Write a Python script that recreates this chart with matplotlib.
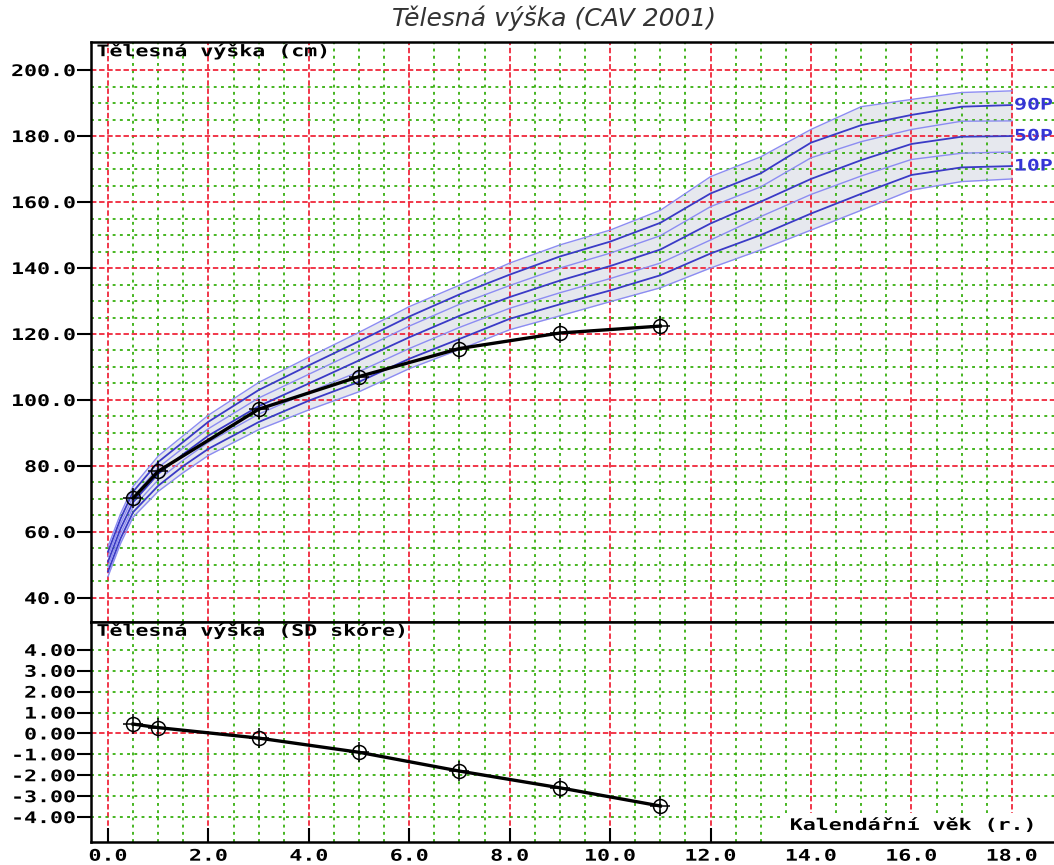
import numpy as np
import matplotlib
matplotlib.use('Agg')
import matplotlib.pyplot as plt
from matplotlib.patheffects import AbstractPathEffect
from matplotlib.transforms import Affine2D

# percentile reference curves (boys, CAV 2001)
ages = [0, 0.25, 0.5, 1, 1.5, 2, 3, 4, 5, 6, 7, 8, 9, 10, 11, 12, 13, 14, 15, 16, 17, 18]
p3 = [46.5, 56.5, 64.5, 72.3, 78.0, 83.2, 91.0, 97.0, 102.5, 109.5, 115.3, 121.3, 125.5, 129.8, 134.0, 140.0, 145.5, 151.5, 157.5, 163.6, 166.2, 167.0]
p10 = [48.0, 58.0, 66.0, 74.0, 80.0, 85.2, 93.3, 99.8, 105.5, 112.5, 118.5, 124.6, 129.0, 133.2, 137.8, 144.4, 150.0, 156.5, 162.5, 168.2, 170.5, 170.9]
p25 = [49.5, 59.5, 67.5, 75.8, 81.8, 87.2, 95.7, 102.4, 108.6, 115.6, 122.0, 127.8, 132.5, 136.8, 141.5, 148.5, 155.6, 162.3, 167.9, 172.9, 174.8, 175.2]
p50 = [51.0, 61.0, 69.0, 77.6, 83.6, 89.2, 98.1, 105.0, 112.0, 119.0, 125.5, 131.2, 136.2, 140.6, 145.6, 153.5, 160.1, 167.0, 172.7, 177.6, 179.8, 180.0]
p75 = [52.5, 62.5, 70.6, 79.5, 85.5, 91.3, 100.6, 107.8, 115.0, 122.4, 129.0, 134.7, 140.0, 144.5, 149.8, 158.6, 164.6, 173.4, 178.3, 182.0, 184.5, 184.6]
p90 = [54.0, 64.0, 72.2, 81.2, 87.3, 93.4, 103.0, 110.5, 117.8, 125.3, 132.0, 138.0, 143.5, 148.0, 153.7, 162.6, 168.7, 178.0, 183.3, 186.4, 188.9, 189.4]
p97 = [55.5, 65.5, 73.8, 83.0, 89.2, 95.4, 105.3, 113.0, 120.5, 128.3, 134.8, 141.5, 147.0, 151.5, 157.5, 167.7, 173.7, 182.0, 188.9, 191.1, 193.2, 193.7]

# patient measurements
visit_age = [0.5, 1.0, 3.0, 5.0, 7.0, 9.0, 11.0]
height_cm = [70.2, 78.4, 97.2, 107.1, 115.6, 120.3, 122.4]
height_sd = [0.45, 0.28, -0.22, -0.9, -1.8, -2.6, -3.47]

x_ticks = [0, 2, 4, 6, 8, 10, 12, 14, 16, 18]
x_labels = ['0.0', '2.0', '4.0', '6.0', '8.0', '10.0', '12.0', '14.0', '16.0', '18.0']
cm_ticks = [40, 60, 80, 100, 120, 140, 160, 180, 200]
cm_labels = ['40.0', '60.0', '80.0', '100.0', '120.0', '140.0', '160.0', '180.0', '200.0']
sd_ticks = [-4, -3, -2, -1, 0, 1, 2, 3, 4]
sd_labels = ['-4.00', '-3.00', '-2.00', '-1.00', '0.00', '1.00', '2.00', '3.00', '4.00']

RED = '#f0283c'
GREEN = '#38b010'
LIGHT = '#8c8cf2'
DARK = '#3a3ac6'
MONO = dict(family='DejaVu Sans Mono', weight='bold', fontsize=11.5)
SX = 1.35  # the original uses a wide pixel font


class Stretch(AbstractPathEffect):
    """Widen text glyphs horizontally around the alignment anchor."""

    def __init__(self, sx, anchor='left'):
        super().__init__()
        self.sx = sx
        self.anchor = anchor

    def draw_path(self, renderer, gc, tpath, affine, rgbFace=None):
        ext = tpath.get_extents()
        x0 = {'left': ext.x0, 'right': ext.x1, 'center': (ext.x0 + ext.x1) / 2}[self.anchor]
        t = Affine2D().translate(-x0, 0).scale(self.sx, 1).translate(x0, 0)
        renderer.draw_path(gc, tpath, t + affine, rgbFace)


fig = plt.figure(figsize=(10.54, 8.65), dpi=100)
ax = fig.add_axes([0.0863, 0.2813, 0.9137, 0.6701])
ax2 = fig.add_axes([0.0863, 0.0269, 0.9137, 0.2544])

XLIM = (-0.339, 18.84)


def draw_grid(a, ys_green, ys_red):
    for xv in np.arange(0, 18.01, 0.5):
        if xv % 2 == 0:
            a.axvline(xv, color=RED, lw=1.3, ls=(0, (3, 1.5)), zorder=1)
        else:
            a.axvline(xv, color=GREEN, lw=1.3, ls=(0, (1.6, 2.4)), zorder=1)
    for yv in ys_green:
        a.axhline(yv, color=GREEN, lw=1.3, ls=(0, (1.6, 2.4)), zorder=1)
    for yv in ys_red:
        a.axhline(yv, color=RED, lw=1.3, ls=(0, (3, 1.5)), zorder=1)


# --- upper panel: height in cm ---
green_cm = [v for v in np.arange(40, 200.1, 5) if v % 20 != 0]
draw_grid(ax, green_cm, cm_ticks)

ax.fill_between(ages, p3, p97, color='#e6e8ee', lw=0, zorder=0.5)
for vals, col, lw in [(p3, LIGHT, 1.0), (p10, DARK, 1.3), (p25, LIGHT, 1.0), (p50, DARK, 1.3),
                      (p75, LIGHT, 1.0), (p90, DARK, 1.3), (p97, LIGHT, 1.0)]:
    ax.plot(ages, vals, color=col, lw=lw, zorder=2)

for name, vals in [('90P', p90), ('50P', p50), ('10P', p10)]:
    ax.text(18.05, vals[-1], name, color='#3535d5', va='center', ha='left', zorder=4,
            path_effects=[Stretch(SX, 'left')], **MONO)

ax.plot(visit_age, height_cm, color='black', lw=2.4, zorder=3)
ax.plot(visit_age, height_cm, 'o', ms=10, mfc='none', mec='black', mew=1.1, zorder=3)
ax.plot(visit_age, height_cm, '+', ms=15, color='black', mew=1.1, zorder=3)

ax.set_xlim(*XLIM)
ax.set_ylim(32.8, 208.5)
ax.set_xticks([])
ax.set_yticks(cm_ticks)
ax.set_yticklabels(cm_labels, **MONO)
ax.tick_params(axis='y', direction='out', length=10, width=1.5, pad=1)
ax.text(0.006, 0.998, 'Tělesná výška (cm)', transform=ax.transAxes,
        va='top', ha='left', zorder=5, path_effects=[Stretch(SX, 'left')], **MONO)

# --- lower panel: SD score ---
draw_grid(ax2, [v for v in sd_ticks if v != 0], [0])

ax2.plot(visit_age, height_sd, color='black', lw=2.4, zorder=3)
ax2.plot(visit_age, height_sd, 'o', ms=10, mfc='none', mec='black', mew=1.1, zorder=3)
ax2.plot(visit_age, height_sd, '+', ms=15, color='black', mew=1.1, zorder=3)

ax2.set_xlim(*XLIM)
ax2.set_ylim(-5.18, 5.35)
ax2.set_yticks(sd_ticks)
ax2.set_yticklabels(sd_labels, **MONO)
ax2.set_xticks(x_ticks)
ax2.set_xticklabels(x_labels, **MONO)
ax2.tick_params(axis='y', direction='out', length=10, width=1.5, pad=1)
ax2.tick_params(axis='x', direction='in', length=10, width=1.5, pad=5)
ax2.text(0.006, 0.995, 'Tělesná výška (SD skóre)', transform=ax2.transAxes,
         va='top', ha='left', zorder=5, path_effects=[Stretch(SX, 'left')], **MONO)

# x label: widened text, so anchor it at its left edge and give it a white box
ax2.text(0.726, 0.04, 'Kalendářní věk (r.)', transform=ax2.transAxes,
         va='bottom', ha='left', zorder=5, path_effects=[Stretch(SX, 'left')], **MONO)
ax2.add_patch(plt.Rectangle((0.72, 0.0), 0.28, 0.13, transform=ax2.transAxes,
                            facecolor='white', edgecolor='none', zorder=4.5))

for lbl in ax.get_yticklabels() + ax2.get_yticklabels():
    lbl.set_path_effects([Stretch(SX, 'right')])
for lbl in ax2.get_xticklabels():
    lbl.set_path_effects([Stretch(SX, 'center')])

for a in (ax, ax2):
    a.spines['right'].set_visible(False)
    for s in ('left', 'top', 'bottom'):
        a.spines[s].set_linewidth(1.8)
        a.spines[s].set_zorder(6)

fig.text(0.5256, 0.979, 'Tělesná výška (CAV 2001)', fontsize=18, style='italic',
         color='#333333', ha='center', va='center', family='DejaVu Sans')

fig.savefig('out.png', dpi=100, facecolor='white')
